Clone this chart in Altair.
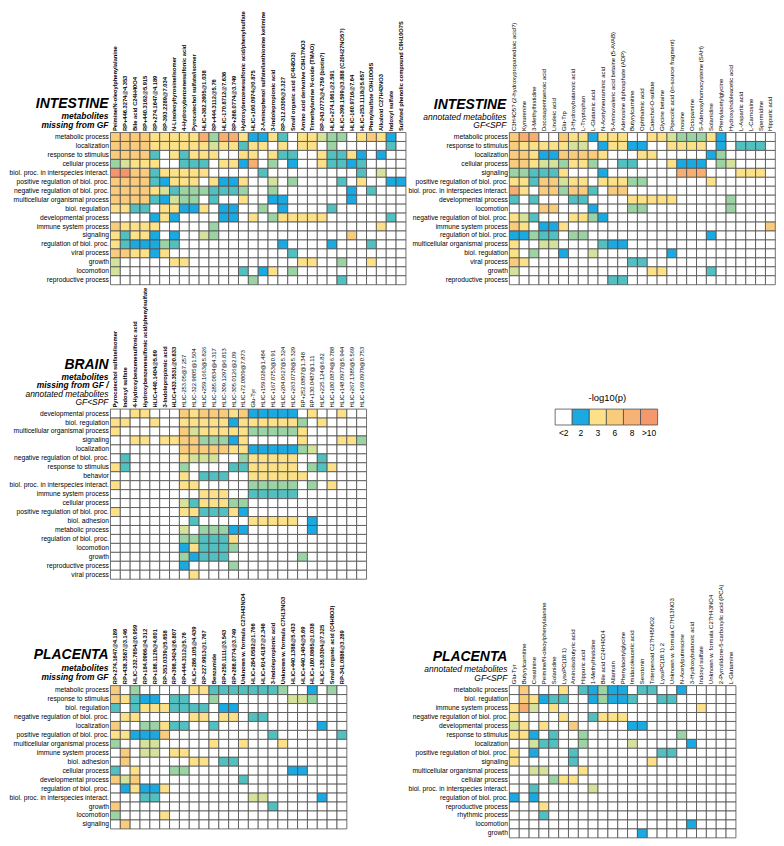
import json
import altair as alt
import pandas as pd

FONT = "Liberation Sans, Arial, Helvetica, sans-serif"
COL_STEP = 9.9
ROW_STEP = 9.0

# colour code of each cell -> estimated -log10(p)
LEVEL = {".": 1.0, "b": 2.0, "t": 2.3, "g": 2.6, "l": 2.85, "y": 3.3, "o": 6.0, "O": 8.0, "r": 10.5}
SCALE_DOMAIN = [2.0, 2.3, 2.6, 2.85, 3.3, 6.0, 8.0, 10.5]
SCALE_RANGE = ["#1aa9e0", "#52bfc1", "#9bd3a4", "#d4e29b", "#fce188", "#f9cb7d", "#f7ae70", "#f4956b"]

LEGEND_LABELS = ["<2", "2", "3", "6", "8", ">10"]
LEGEND_COLORS = ["#ffffff", "#1aa9e0", "#fce188", "#f9cb7d", "#f7b276", "#f4986e"]

# ---------------- INTESTINE, metabolites missing from GF ----------------
INT_MISS_COLS = [
    "Peimine/N-oleoylphenylalanine", "RP+446.3274@4.353", "Bile acid C24H40O4", "RP+440.3162@5.915",
    "RP+274.1647@4.189", "RP-393.2289@7.034", "N-Linoleoyltyrosine/isomer", "4-Hydroxybenzenesulfonic acid",
    "Pyrocatechol sulfate/isomer", "HLIC+382.2605@1.038", "RP+444.3112@5.76", "HLIC-170.8712@7.636",
    "RP+268.0774@3.749", "Hydroxybenzenesulfonic acid/phenylsulfate", "HLIC+160.0974@0.875",
    "2-Aminophenol sulfate/lanthionine ketimine", "3-Indolepropionic acid", "RP-312.0309@3.327",
    "Small organic acid (C4H8O3)", "Amino acid derivative C8H17NO3", "Trimethylamine N-oxide (TMAO)",
    "RP-243.0773@4.759 (biotin?)", "HLIC+274.1661@2.591", "HLIC+399.1599@3.888 (C20H27NO5?)",
    "HLIC-160.9716@7.64", "HLIC+253.1118@5.657", "Phenylsulfate C9H10O6S", "Alkaloid C27H43NO3",
    "Indoxyl sulfate", "Sulfated phenolic compound C9H10O7S",
]
INT_MISS_ROWS = [
    "metabolic process", "localization", "response to stimulus", "cellular process",
    "biol. proc. in interspecies interact.", "positive regulation of biol. proc.",
    "negative regulation of biol. proc.", "multicellular organismal process", "biol. regulation",
    "developmental process", "immune system process", "signaling", "regulation of biol. proc.",
    "viral process", "growth", "locomotion", "reproductive process",
]
INT_MISS_CELLS = [
    "ooooyyyyyOgOOybbyt.yylgg.yoyb.",
    "ooooyyyyyylyytyy.y.yy.g.....t.",
    "oooot.ytyyy..yy.ytt..yttyb.b..",
    "glyyy..ttt.yybO.g.b..yttbt....",
    "rrootyyyyy.....t.........t.l..",
    "ooootbyyy.ybby..l.g....t.y..bb",
    "ooooyltgggtttg..g.......b.t...",
    "ooootblgg.t..y..bb......b.....",
    "yytt.yybby.bb..g.b....t.......",
    "....byb....bb.y.gyyyyy......t.",
    "oyyyy.....g................y..",
    "ytyyb.b..lg.............o.....",
    "ytbbbgt..........b....b...t...",
    "ooyyby............t...........",
    "l.....yy...........yy..g..y...",
    "l............t.by.g...........",
    "..............g........t......",
]

# ---------------- INTESTINE, annotated metabolites GF<SPF ----------------
INT_ANN_COLS = [
    "C3H4O5? (2-hydroxypropanedioic acid?)", "Kynurenine", "3-Methylhistidine", "Docosapentaenoic acid",
    "Linoleic acid", "Glu-Trp", "3-Hydroxybutanoic acid", "L-Tryptophan", "L-Glutamic acid",
    "N-Acetylneuraminic acid", "5-Aminovaleric acid betaine (5-AVAB)", "Adenosine diphosphate (ADP)",
    "Butyrylcarnitine", "Ophthalmic acid", "Catechol-O-sulfate", "Glycine betaine",
    "Pipecolic acid (in-source fragment)", "Inosine", "Octopamine", "S-Adenosylhomocysteine (SAH)",
    "Solanidine", "Phenylacetylglycine", "Hydroxyindoleacetic acid", "L-Aspartic acid", "L-Carnosine",
    "Spermidine", "Hippuric acid",
]
INT_ANN_ROWS = [
    "metabolic process", "response to stimulus", "localization", "cellular process", "signaling",
    "positive regulation of biol. proc.", "biol. proc. in interspecies interact.", "developmental process",
    "locomotion", "negative regulation of biol. proc.", "immune system process", "regulation of biol. proc.",
    "multicellular organismal process", "biol. regulation", "viral process", "growth", "reproductive process",
]
INT_ANN_CELLS = [
    "oOO..oyybyyy..yylgggyb.....",
    "oyyyyyll.byybb..yyyy.b.ttt.",
    "ooybbooooy...yy.....bg.....",
    "ooyllgyyg..tt...ybbb.gl....",
    "ggttty...b.......OOO...yyy.",
    "yytoolyy.yyygg......y......",
    "Oy.oogoot.oo...............",
    "t.t...tt....yyyyy.....g....",
    "...oo...b...gg........g....",
    "ylt...yygb.................",
    "oy.bby....................o",
    "bbgtt.gg............b......",
    "y..ll....tbb...............",
    "y.g..b..l.......b..........",
    "oy..........tt.............",
    "l.............yy....t......",
    "..........tt...............",
]

# ---------------- BRAIN ----------------
BRAIN_COLS = [
    "Pyrocatechol sulfate/isomer", "Indoxyl sulfate", "4-Hydroxybenzenesulfonic acid",
    "Hydroxybenzenesulfonic acid/phenylsulfate", "HLIC+440.1404@5.69", "3-Indolepropionic acid",
    "HLIC+433.3531@0.833", "HLIC-253.05@7.257", "HLIC-322.9805@1.504", "HLIC+259.1663@5.826",
    "HLIC-285.0834@4.317", "HLIC-309.1297@6.813", "HLIC-305.0126@2.09", "HLIC+72.0809@7.873", "Glu-Tyr",
    "HLIC+159.028@1.484", "HLIC+167.0753@0.91", "HLIC+204.0627@5.324", "HLIC+263.0738@5.329",
    "RP+252.0897@1.348", "RP+130.0487@1.11", "HLIC+225.124@6.82", "HLIC+180.0874@6.788",
    "HLIC+148.0977@5.944", "HLIC+267.1385@5.569", "HLIC+169.0979@0.753",
]
BRAIN_MISSING = BRAIN_COLS[:7]
BRAIN_ROWS = [
    "developmental process", "biol. regulation", "multicellular organismal process", "signaling",
    "localization", "negative regulation of biol. proc.", "response to stimulus", "behavior",
    "biol. proc. in interspecies interact.", "immune system process", "cellular process",
    "positive regulation of biol. proc.", "biol. adhesion", "metabolic process", "regulation of biol. proc.",
    "locomotion", "growth", "reproductive process", "viral process",
]
BRAIN_CELLS = [
    "..yy...oyoooyobbbbb.y..y..",
    "yy..y..yyyyybyyyyyyg.y....",
    "y......olyyyyygggggy......",
    "..yy.yyoogggby.....y...yyg",
    ".......oooooyybbbbbgl.....",
    ".t.....ylll..gyyyyy..t....",
    "yt.....g....ttyyyyy.gty...",
    ".......y.ttt..yyyyyy......",
    "y......yy.....ggggg.g.y...",
    ".........yyy..ttttt.......",
    ".......ltyyygg............",
    "y......yytttyb............",
    "........t.....yyyyy.b.....",
    ".......l.gggbb......b.....",
    ".......ggttty.............",
    ".......bytttg.............",
    ".......gbttt.......g......",
    ".......b....g.............",
    "........y.................",
]

# ---------------- PLACENTA, metabolites missing from GF ----------------
PLA_MISS_COLS = [
    "RP+274.1647@4.189", "RP+438.3587@3.146", "HLIC-232.7654@0.959", "RP+184.0966@4.312",
    "RP+186.1129@4.601", "RP-353.0339@5.658", "RP+398.3424@6.807", "RP+444.3112@5.76",
    "HLIC+286.105@4.439", "RP-227.9913@1.767", "Benzamide", "RP+250.1111@3.543", "RP+268.0774@3.749",
    "Unknown w. formula C27H43NO4", "HLIC+284.0582@1.766", "HLIC+914.4187@2.346", "3-Indolepropionic acid",
    "Unknown w. formula C7H13NO3", "HLIC+440.1388@5.433", "HLIC+440.1404@5.69", "HLIC+180.0865@1.038",
    "HLIC-135.0304@7.325", "Small organic acid (C4H8O3)", "RP-341.0886@3.289",
]
PLA_MISS_ROWS = [
    "metabolic process", "response to stimulus", "biol. regulation", "negative regulation of biol. proc.",
    "localization", "positive regulation of biol. proc.", "multicellular organismal process",
    "immune system process", "biol. adhesion", "cellular process", "developmental process",
    "regulation of biol. proc.", "biol. proc. in interspecies interact.", "growth", "locomotion", "signaling",
]
PLA_MISS_CELLS = [
    "o.g.....yytttttttg..b.g.",
    "oytbb.tt..g.......llg...",
    "t.tyyytttt.bb...........",
    ".yy.....yy.yy.tt........",
    "o..ggytt..t..........b..",
    "yybbbo..........t......t",
    "g..ll.....y..y...y......",
    ".o.ll.yy................",
    ".o......yy.tt...........",
    "t.y...gg..........bb....",
    "olo..........t..........",
    ".bybby..................",
    "...tt.........ll.....b..",
    "o...............t.......",
    "g....y..................",
    ".o......................",
]

# ---------------- PLACENTA, annotated metabolites GF<SPF ----------------
PLA_ANN_COLS = [
    "Glu-Tyr", "Butyrylcarnitine", "Creatinine", "Peimine/N-oleoylphenylalanine", "Solanidine",
    "LysoPC(18:1)", "Aminoisobutyric acid", "Hippuric acid", "1-Methylhistidine", "Bile acid C24H40O4",
    "Allantoin", "Phenylacetylglycine", "Imidazoleacetic acid", "Serotonin", "Triterpenoid C27H45NO2",
    "LysoPC(18:1) 2", "Unknown w. formula C7H13NO3", "N-Acetylputrescine", "3-Hydroxybutanoic acid",
    "Indoxyl sulfate", "Unknown w. formula C27H43NO4", "2-Pyrrolidone-5-carboxylic acid (PCA)", "L-Glutamine",
]
PLA_ANN_ROWS = [
    "metabolic process", "biol. regulation", "immune system process", "negative regulation of biol. proc.",
    "developmental process", "response to stimulus", "localization", "positive regulation of biol. proc.",
    "signaling", "multicellular organismal process", "cellular process", "biol. proc. in interspecies interact.",
    "regulation of biol. proc.", "reproductive process", "rhythmic process", "locomotion", "growth",
]
PLA_ANN_CELLS = [
    ".o...y.tbgbb.tt..b.....",
    ".oybtt..bgbbt..tt......",
    "yOl.y..............y...",
    "y....y..tyyy...........",
    "ly.y..o.....bb.........",
    "yyb.t..g.........g.....",
    "..ltt..g....l.....b....",
    "y.b...t........tt......",
    "y.....t.......y........",
    "..ll...y...............",
    "....gyy................",
    "..t.....l..............",
    "b.b....................",
    "...y...................",
    "...t...................",
    "..................b....",
    ".............b.........",
]


def heatmap(cols, rows, cells, titles, title_x, bold, col_font):
    n = len(cols)
    recs = []
    for r, line in zip(rows, cells):
        line = line.ljust(n, ".")[:n]
        for c, ch in zip(cols, line):
            recs.append({"metabolite": c, "process": r, "v": LEVEL[ch]})
    df = pd.DataFrame(recs)
    if bold is True:
        fw = "bold"
    elif bold:
        fw = {"condition": {"test": "indexof(%s, datum.value) >= 0" % json.dumps(bold), "value": "bold"},
              "value": "normal"}
    else:
        fw = "normal"
    rect = alt.Chart(df).mark_rect(stroke="#4d4d4d", strokeWidth=0.8).encode(
        x=alt.X("metabolite:N", sort=cols, scale=alt.Scale(paddingInner=0, paddingOuter=0),
                axis=alt.Axis(orient="top", title=None, labelAngle=270, ticks=False, domain=False,
                              labelPadding=2, labelFont=FONT, labelFontSize=col_font, labelFontWeight=fw,
                              labelLimit=0, labelOverlap=False, labelColor="black")),
        y=alt.Y("process:N", sort=rows, scale=alt.Scale(paddingInner=0, paddingOuter=0),
                axis=alt.Axis(title=None, ticks=False, domain=False, labelPadding=2, labelFont=FONT,
                              labelFontSize=6.75, labelLimit=0, labelOverlap=False, labelColor="black")),
        fill=alt.condition("datum.v >= 2",
                           alt.Fill("v:Q", scale=alt.Scale(domain=SCALE_DOMAIN, range=SCALE_RANGE), legend=None),
                           alt.value("white")),
    )
    layers = [rect]
    for text, dy, size, weight in titles:
        layers.append(
            alt.Chart(pd.DataFrame({"t": [text]})).mark_text(
                align="right", baseline="alphabetic", font=FONT, fontSize=size,
                fontWeight=weight, fontStyle="italic", color="black",
            ).encode(text="t:N", x=alt.value(title_x), y=alt.value(dy))
        )
    return alt.layer(*layers).properties(width=n * COL_STEP, height=len(rows) * ROW_STEP)


p1 = heatmap(INT_MISS_COLS, INT_MISS_ROWS, INT_MISS_CELLS,
             [("INTESTINE", -25, 14, "bold"), ("metabolites", -13.5, 8.5, "bold"),
              ("missing from GF", -4.5, 8.5, "bold")], -2, True, 5.8)
p2 = heatmap(INT_ANN_COLS, INT_ANN_ROWS, INT_ANN_CELLS,
             [("INTESTINE", -23.5, 14, "bold"), ("annotated metabolites", -13, 8.5, "normal"),
              ("GF<SPF", -4.5, 8.5, "normal")], -3, False, 6.0)
brain = heatmap(BRAIN_COLS, BRAIN_ROWS, BRAIN_CELLS,
                [("BRAIN", -40, 14, "bold"), ("metabolites", -29.5, 8.5, "bold"),
                 ("missing from GF /", -21, 8.5, "bold"), ("annotated metabolites", -12.5, 8.5, "normal"),
                 ("GF<SPF", -4, 8.5, "normal")], -2, BRAIN_MISSING, 5.8)
pl1 = heatmap(PLA_MISS_COLS, PLA_MISS_ROWS, PLA_MISS_CELLS,
              [("PLACENTA", -26.5, 14, "bold"), ("metabolites", -15, 8.5, "bold"),
               ("missing from GF", -6, 8.5, "bold")], -2, True, 5.8)
pl2 = heatmap(PLA_ANN_COLS, PLA_ANN_ROWS, PLA_ANN_CELLS,
              [("PLACENTA", -24.5, 14, "bold"), ("annotated metabolites", -13.5, 8.5, "normal"),
               ("GF<SPF", -5, 8.5, "normal")], -2, False, 6.0)

legend = alt.Chart(pd.DataFrame({"lab": LEGEND_LABELS})).mark_rect(stroke="#4d4d4d", strokeWidth=0.8).encode(
    x=alt.X("lab:N", sort=LEGEND_LABELS, scale=alt.Scale(range=[46, 149], paddingInner=0, paddingOuter=0),
            axis=alt.Axis(orient="bottom", title=None, ticks=False, domain=False, labelAngle=0,
                          labelPadding=4, labelFont=FONT, labelFontSize=8.5, labelColor="black")),
    fill=alt.Fill("lab:N", sort=LEGEND_LABELS,
                  scale=alt.Scale(domain=LEGEND_LABELS, range=LEGEND_COLORS), legend=None),
).properties(
    width=149, height=16,
    title=alt.TitleParams("-log10(p)", font=FONT, fontSize=9.5, fontWeight="normal", color="black",
                          anchor="middle", dx=24, offset=6),
)

chart = alt.concat(
    p1, p2, brain, legend, pl1, pl2,
    columns=2, bounds="flush", align="all", spacing={"row": 107, "column": 104},
).resolve_scale(
    x="independent", y="independent", fill="independent"
).properties(
    padding=0
).configure_view(stroke=None).configure_axis(labelFont=FONT)

chart.save("out.html", embed_options={"renderer": "svg", "actions": False})
